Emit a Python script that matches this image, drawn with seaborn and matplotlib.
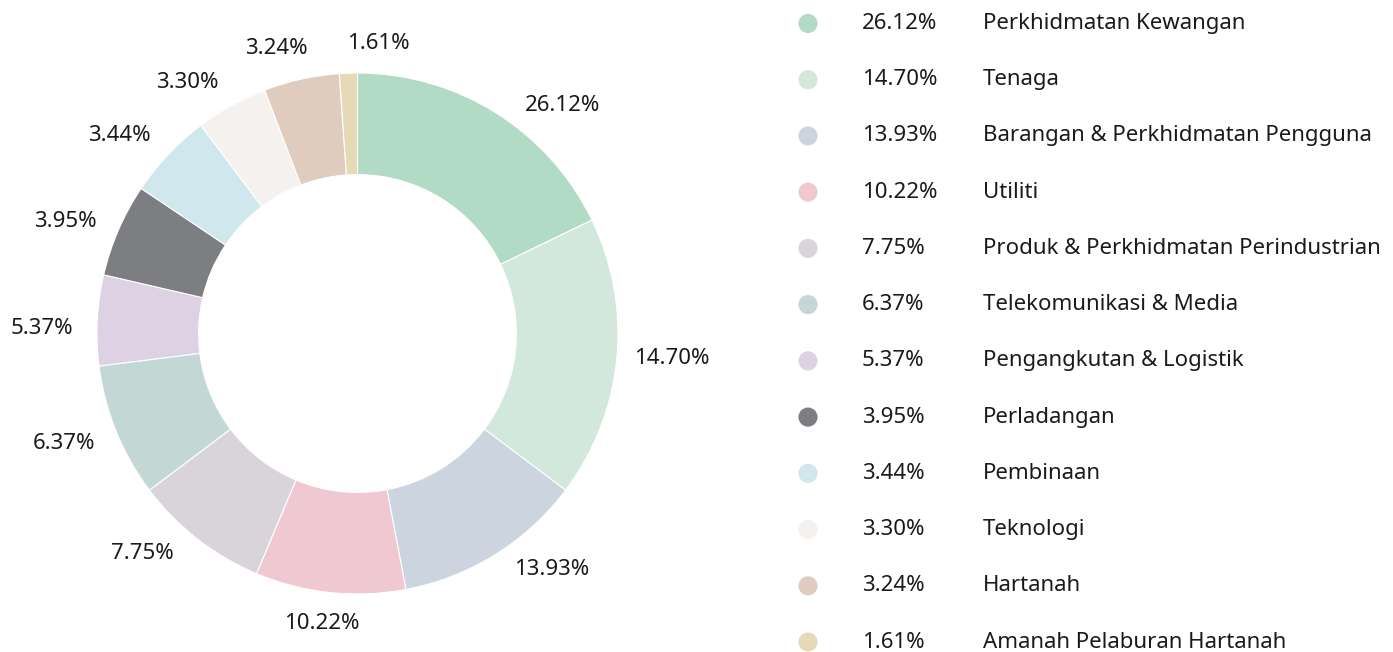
import numpy as np
import pandas as pd
import matplotlib
matplotlib.use("Agg")
import matplotlib.pyplot as plt
import seaborn as sns

# ── Data ──────────────────────────────────────────────────────────────────────
sectors = [
    "Perkhidmatan Kewangan", "Tenaga", "Barangan & Perkhidmatan Pengguna",
    "Utiliti", "Produk & Perkhidmatan Perindustrian", "Telekomunikasi & Media",
    "Pengangkutan & Logistik", "Perladangan", "Pembinaan", "Teknologi",
    "Hartanah", "Amanah Pelaburan Hartanah",
]
weights_pct = [26.12, 14.70, 13.93, 10.22, 7.75, 6.37, 5.37, 3.95, 3.44, 3.30, 3.24, 1.61]
# share of the ring each slice takes in the source picture (not proportional to the labels)
slice_share = [17.83, 17.44, 11.75, 9.31, 8.39, 8.28, 5.61, 5.78, 5.33, 4.47, 4.69, 1.11]
colors = [
    "#B2DBC6", "#D3E8DD", "#CCD4DF", "#F0C8D2", "#D9D4DA", "#C3D8D5",
    "#DDD1E3", "#7D7E82", "#D0E8ED", "#F5F1EE", "#DFCCBE", "#E5DAB5",
]

DARK = "#1A1A1A"
FS = 16
W, H = 1393, 652

sns.set_theme(style="white")
plt.rcParams["font.family"] = ["Noto Sans", "DejaVu Sans"]

fig = plt.figure(figsize=(W / 100, H / 100), dpi=100)

# ── Donut ─────────────────────────────────────────────────────────────────────
R_PX = 260.5
cx, cy = 357.5, H - 333.5
half = 1.25 * R_PX
ax = fig.add_axes([(cx - half) / W, (cy - half) / H, 2 * half / W, 2 * half / H])
wedges, _ = ax.pie(
    slice_share, colors=colors, startangle=90, counterclock=False, radius=1,
    wedgeprops=dict(width=0.39, edgecolor="white", linewidth=0.8),
)

# value labels round the ring: spread a little so they don't collide,
# pushed further out where the text runs sideways
spread_deg = [10, -1, -7.5, 1, 6.4, 1.5, -2, -2.4, -3.7, -5.2, -3.5, 6.2]
for w, v, sh in zip(wedges, weights_pct, spread_deg):
    ang = np.deg2rad((w.theta1 + w.theta2) / 2 - sh)
    d = 1.11 + 0.10 * abs(np.cos(ang))
    ax.text(d * np.cos(ang), d * np.sin(ang), f"{v:.2f}%", fontsize=FS,
            color=DARK, ha="center", va="center")
ax.set_xlim(-1.25, 1.25)
ax.set_ylim(-1.25, 1.25)
ax.axis("off")

# ── Legend (dot, value, sector name) ──────────────────────────────────────────
x0 = 780
lax = fig.add_axes([x0 / W, 0, (W - x0) / W, 1])
rows = np.arange(len(sectors))
row_px = (642 - 23) / (len(sectors) - 1)
lax.set_xlim(x0, W)
lax.set_ylim(len(sectors) - 1 + (H - 642) / row_px, -23.5 / row_px)

leg = pd.DataFrame({"x": 808, "row": rows, "sector": sectors})
sns.scatterplot(data=leg, x="x", y="row", hue="sector", palette=colors,
                s=190, linewidth=0, legend=False, ax=lax)
for r, v, name in zip(rows, weights_pct, sectors):
    lax.text(862, r, f"{v:.2f}%", fontsize=FS, color=DARK, ha="left", va="center")
    lax.text(983, r, name, fontsize=FS, color=DARK, ha="left", va="center")
lax.axis("off")

fig.savefig("out.png", dpi=100)
